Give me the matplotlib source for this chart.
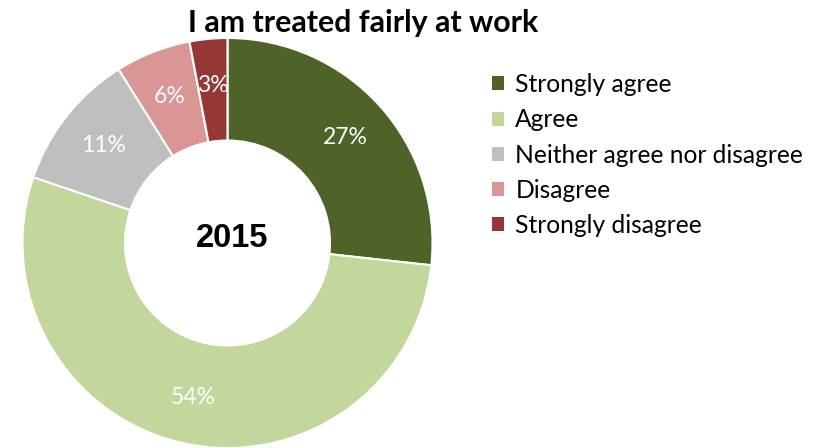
import matplotlib
matplotlib.use("Agg")
import matplotlib.pyplot as plt
from matplotlib.patches import Patch

categories = ["Strongly agree", "Agree", "Neither agree nor disagree", "Disagree", "Strongly disagree"]
values = [27, 54, 11, 6, 3]
labels = ["27%", "54%", "11%", "6%", "3%"]
colors = ["#4F6228", "#C3D69B", "#BFBFBF", "#D99694", "#953735"]

W, H = 821, 448
fig = plt.figure(figsize=(W / 100, H / 100), dpi=100)

# pie axes: centre ~ (227.5, 243) px, outer radius ~205 px
cx, cy, r = 227.5, 243, 205
ax = fig.add_axes([(cx - r) / W, (H - cy - r) / H, 2 * r / W, 2 * r / H])

wedges, texts = ax.pie(values, colors=colors, startangle=90, counterclock=False,
                       radius=1, labels=labels, labeldistance=0.77,
                       wedgeprops=dict(width=0.5, edgecolor="white", linewidth=1.5),
                       textprops=dict(color="white", fontsize=16.5, family="Lato"))
for t in texts:
    t.set_horizontalalignment("center")
    t.set_verticalalignment("center")
ax.set_xlim(-1, 1)
ax.set_ylim(-1, 1)
ax.set_aspect("equal")
ax.axis("off")

ax.text(0.02, 0.02, "2015", ha="center", va="center", fontsize=23.5, fontweight="bold",
        family="Liberation Sans")

fig.text(363 / W, 1 - 23 / H, "I am treated fairly at work", ha="center", va="center",
         fontsize=21.8, fontweight="bold", family="Lato")

handles = [Patch(facecolor=c, edgecolor="none") for c in colors]
fig.legend(handles, categories, loc="upper left", bbox_to_anchor=(492 / W, 1 - 73 / H),
           frameon=False, prop=dict(family="Lato", size=17.7),
           handlelength=0.5, handleheight=0.5, handletextpad=0.45, labelspacing=0.5,
           borderaxespad=0, borderpad=0)

fig.savefig("out.png", dpi=100)
